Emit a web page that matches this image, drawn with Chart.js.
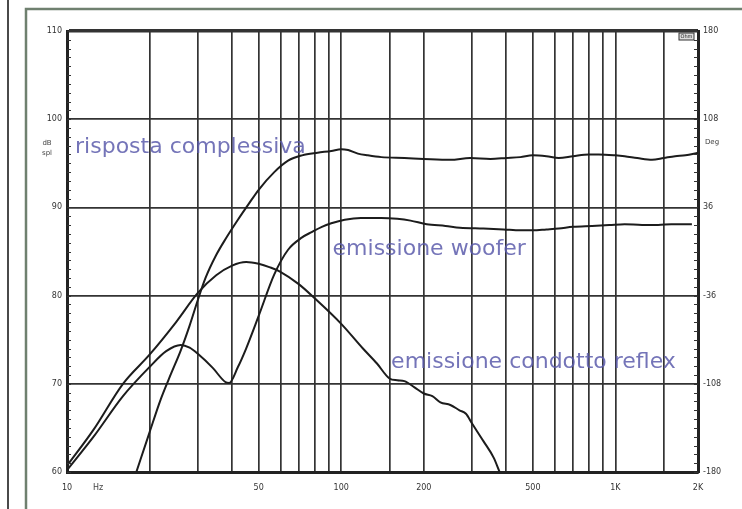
<!DOCTYPE html>
<html>
<head>
<meta charset="utf-8">
<script src="https://cdn.jsdelivr.net/npm/chart.js@4.4.1/dist/chart.umd.min.js"></script>
<style>
  html, body { margin: 0; padding: 0; background: #fff; }
  #wrap { width: 742px; height: 509px; }
</style>
</head>
<body>
<div id="wrap"><canvas id="chart" width="742" height="509"></canvas></div>
<script>
// Frequenze (Hz) e livelli (dB spl)
const freqTotale = [17.9, 20, 22, 24, 26, 28, 30, 32, 35, 38, 42, 46, 50, 57, 64, 72, 82, 92, 100, 106, 115, 125, 140, 170, 200, 250, 295, 350, 400, 450, 500, 560, 621, 700, 800, 870, 1000, 1080, 1200, 1360, 1500, 1650, 1800, 2000];
const dbTotale   = [60.0, 64.5, 68.3, 71.2, 73.8, 76.6, 79.5, 82.0, 84.6, 86.5, 88.6, 90.4, 92.0, 94.0, 95.3, 95.9, 96.2, 96.4, 96.6, 96.5, 96.1, 95.9, 95.7, 95.6, 95.5, 95.4, 95.6, 95.5, 95.6, 95.7, 95.9, 95.8, 95.6, 95.8, 96.0, 96.0, 95.9, 95.8, 95.6, 95.4, 95.6, 95.8, 95.9, 96.2];

const freqWoofer = [10, 12.5, 16, 20, 23, 26, 28, 30, 34, 37.8, 39, 42, 45, 50, 57, 64, 72, 78, 85, 92, 103, 118, 140, 160, 179, 205, 240, 271, 330, 391, 450, 500, 560, 621, 700, 822, 950, 1080, 1250, 1430, 1600, 1900];
const dbWoofer   = [60.2, 64.0, 68.6, 71.9, 73.7, 74.4, 74.1, 73.4, 71.8, 70.2, 70.1, 71.9, 74.0, 77.7, 82.4, 85.2, 86.6, 87.2, 87.8, 88.2, 88.6, 88.8, 88.8, 88.7, 88.5, 88.1, 87.9, 87.7, 87.6, 87.5, 87.4, 87.4, 87.5, 87.6, 87.8, 87.9, 88.0, 88.1, 88.0, 88.0, 88.1, 88.1];

const freqReflex = [10, 12.5, 16, 20, 25, 30, 35, 40, 45, 50, 55, 60, 70, 80, 100, 120, 135, 150, 160, 170, 185, 200, 215, 230, 250, 270, 285, 300, 330, 360, 378];
const dbReflex   = [60.7, 64.8, 70.0, 73.3, 77.0, 80.3, 82.3, 83.4, 83.8, 83.6, 83.2, 82.7, 81.3, 79.7, 76.8, 74.0, 72.3, 70.6, 70.4, 70.3, 69.6, 68.9, 68.6, 67.9, 67.6, 67.0, 66.6, 65.5, 63.5, 61.6, 60.0];

// Griglia verticale ed etichette asse x
const gridFreq = [10, 20, 30, 40, 50, 60, 70, 80, 90, 100, 150, 200, 300, 400, 500, 600, 700, 800, 900, 1000, 1500, 2000];
const labelFreq = { 10: '10', 50: '50', 100: '100', 200: '200', 500: '500', 1000: '1K', 2000: '2K' };
// Asse destro (gradi)
const degTicks = [180, 108, 36, -36, -108, -180];

// Didascalie delle curve (ancorate in Hz / dB)
const didascalie = [
  { testo: 'risposta complessiva', f: 10.7, db: 96.2 },
  { testo: 'emissione woofer', f: 93, db: 84.6 },
  { testo: 'emissione condotto reflex', f: 152, db: 71.8 }
];

const toPoints = (fs, vs) => fs.map((f, i) => ({ x: f, y: vs[i] }));

const decorazioni = {
  id: 'decorazioni',
  beforeDraw(chart) {
    const ctx = chart.ctx;
    ctx.save();
    ctx.fillStyle = '#fff';
    ctx.fillRect(0, 0, chart.width, chart.height);
    // cornice della scansione
    ctx.strokeStyle = '#4a4a4a';
    ctx.lineWidth = 2;
    ctx.beginPath(); ctx.moveTo(8, 0); ctx.lineTo(8, chart.height); ctx.stroke();
    ctx.strokeStyle = '#6f806f';
    ctx.lineWidth = 2.5;
    ctx.beginPath(); ctx.moveTo(26, chart.height); ctx.lineTo(26, 9); ctx.lineTo(chart.width, 9); ctx.stroke();
    ctx.restore();
  },
  afterDraw(chart) {
    const { ctx, chartArea: a, scales } = chart;
    const x = scales.x, y = scales.y;
    ctx.save();
    // tacche minori sugli assi verticali
    ctx.strokeStyle = '#333';
    ctx.lineWidth = 1;
    for (let v = 60; v <= 110; v += 1) {
      const py = Math.round(y.getPixelForValue(v)) + 0.5;
      ctx.beginPath();
      ctx.moveTo(a.left, py); ctx.lineTo(a.left + 4, py);
      ctx.moveTo(a.right, py); ctx.lineTo(a.right - 4, py);
      ctx.stroke();
    }
    // unità di misura
    ctx.fillStyle = '#444';
    ctx.textAlign = 'center';
    ctx.textBaseline = 'middle';
    ctx.font = '7px "DejaVu Sans"';
    ctx.fillText('dB', 47, 143);
    ctx.fillText('spl', 47, 153);
    ctx.fillText('Deg', 712, 142);
    ctx.font = '8px "DejaVu Sans"';
    ctx.fillText('Hz', 98, 488);
    // riquadro Ohm
    ctx.fillStyle = '#ddd';
    ctx.fillRect(a.right - 19, a.top + 2, 15, 7);
    ctx.strokeStyle = '#333';
    ctx.strokeRect(a.right - 19, a.top + 2, 15, 7);
    ctx.fillStyle = '#222';
    ctx.font = '5px "DejaVu Sans"';
    ctx.fillText('Ohm', a.right - 11.5, a.top + 5.5);
    // didascalie
    ctx.fillStyle = 'rgba(92, 92, 172, 0.85)';
    ctx.font = '22px "DejaVu Sans"';
    ctx.textAlign = 'left';
    ctx.textBaseline = 'alphabetic';
    didascalie.forEach(d => ctx.fillText(d.testo, x.getPixelForValue(d.f), y.getPixelForValue(d.db)));
    ctx.restore();
  }
};

const stileCurva = {
  borderColor: '#1c1c1c',
  borderWidth: 2,
  pointRadius: 0,
  fill: false,
  cubicInterpolationMode: 'monotone',
  yAxisID: 'y'
};

const tickFont = { family: 'DejaVu Sans', size: 8 };

new Chart(document.getElementById('chart').getContext('2d'), {
  type: 'line',
  data: {
    datasets: [
      { label: 'risposta complessiva', data: toPoints(freqTotale, dbTotale), ...stileCurva },
      { label: 'emissione woofer', data: toPoints(freqWoofer, dbWoofer), ...stileCurva },
      { label: 'emissione condotto reflex', data: toPoints(freqReflex, dbReflex), ...stileCurva }
    ]
  },
  options: {
    responsive: false,
    animation: false,
    layout: { padding: { top: 31, left: 0, right: 0, bottom: 0 } },
    plugins: { legend: { display: false }, tooltip: { enabled: false } },
    scales: {
      x: {
        type: 'logarithmic',
        min: 10,
        max: 2000,
        afterBuildTicks: s => { s.ticks = gridFreq.map(v => ({ value: v })); },
        afterFit: s => { s.height = 37; },
        ticks: {
          autoSkip: false,
          maxRotation: 0,
          padding: 11,
          color: '#333',
          font: tickFont,
          callback: v => labelFreq[v] || ''
        },
        grid: { color: '#333', lineWidth: 1.7, drawTicks: false },
        border: { color: '#222', width: 3 }
      },
      y: {
        type: 'linear',
        position: 'left',
        min: 60,
        max: 110,
        afterFit: s => { s.width = 67; },
        ticks: { stepSize: 10, padding: 5, color: '#333', font: tickFont },
        grid: {
          color: '#333',
          lineWidth: c => (c.tick && c.tick.value === 110 ? 3.5 : 1.7),
          drawTicks: false
        },
        border: { color: '#222', width: 3 }
      },
      yDeg: {
        type: 'linear',
        position: 'right',
        min: -180,
        max: 180,
        afterBuildTicks: s => { s.ticks = degTicks.map(v => ({ value: v })); },
        afterFit: s => { s.width = 44; },
        ticks: { padding: 5, color: '#333', font: tickFont },
        grid: { drawOnChartArea: false, drawTicks: false },
        border: { color: '#222', width: 3 }
      }
    }
  },
  plugins: [decorazioni]
});
</script>
</body>
</html>
